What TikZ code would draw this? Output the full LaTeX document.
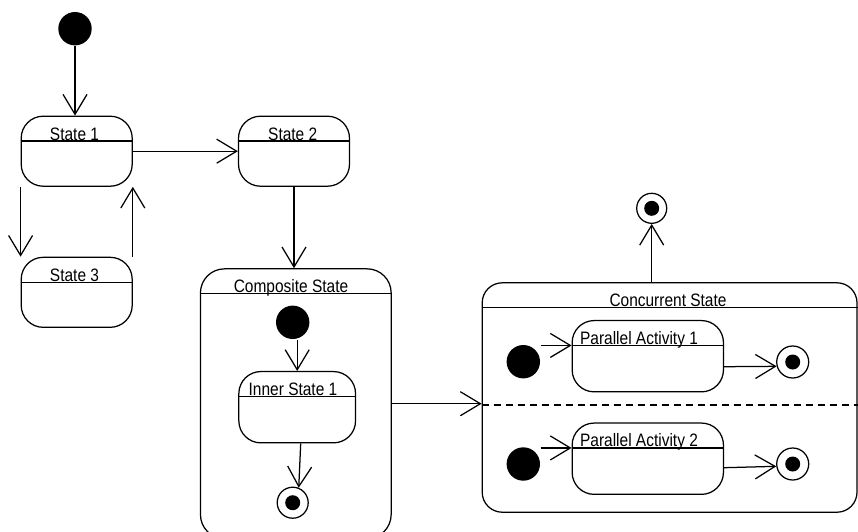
\documentclass[tikz,border=0pt]{standalone}
\usepackage{fontspec}
\newfontfamily\lab{Liberation Sans}[FakeStretch=0.86]
\usetikzlibrary{arrows.meta}

\begin{document}
\begin{tikzpicture}[x=1pt,y=-1pt,line width=1.25pt,
  statebox/.style={draw,rounded corners=22pt,inner sep=0pt},
  startdot/.style={circle,fill=black,minimum size=33.4pt,inner sep=0pt},
  enddot/.style={circle,draw,minimum size=#1,inner sep=0pt,fill=white},
  tr/.style={-{Straight Barb[length=20pt,width=24pt]}},
  lbl/.style={font=\lab\fontsize{18}{20}\selectfont,anchor=base,inner sep=0pt},
  region/.style={dash pattern=on 7pt off 5pt}
]
\useasboundingbox (0,0) rectangle (858,531);
\clip (0,0) rectangle (858,531);

% simple states
\node[statebox,minimum width=111pt,minimum height=70pt] (s1) at (76.7,151.2) {};
\node[statebox,minimum width=111pt,minimum height=70pt] (s2) at (294,151.2) {};
\node[statebox,minimum width=111pt,minimum height=70pt] (s3) at (76.7,292.3) {};

% composite state with its inner machine
\node[statebox,rounded corners=24pt,minimum width=190.7pt,minimum height=269.7pt] (comp) at (295.8,403.7) {};
\node[statebox,minimum width=116.7pt,minimum height=71.3pt] (inner) at (297.2,407.2) {};

% concurrent state with two regions
\node[statebox,rounded corners=20pt,minimum width=374.8pt,minimum height=229.4pt] (conc) at (669.6,397.5) {};
\node[statebox,minimum width=151.3pt,minimum height=71.3pt] (pa1) at (647.8,356.2) {};
\node[statebox,minimum width=151.3pt,minimum height=71.3pt] (pa2) at (647.8,458.7) {};

% compartment lines under the names
\foreach \b in {s1,s2,s3,comp,inner,conc,pa1,pa2}
  \draw ([yshift=-25.5pt]\b.north west) -- ([yshift=-25.5pt]\b.north east);
\draw[region] ([yshift=-7.5pt]conc.west) -- ([yshift=-7.5pt]conc.east);

% names
\node[lbl] (t1) at (74.5,140) {State 1};
\node[lbl] (t2) at (292.7,140) {State 2};
\node[lbl] (t3) at (74.5,281.2) {State 3};
\node[lbl] (tc) at (291,292.8) {Composite State};
\node[lbl] (ti) at (293,395.5) {Inner State 1};
\node[lbl] (tk) at (668,306.8) {Concurrent State};
\node[lbl] (tp1) at (639,344.5) {Parallel Activity 1};
\node[lbl] (tp2) at (639,446.8) {Parallel Activity 2};

% pseudo states
\node[startdot] (i0) at (75,28.7) {};
\node[startdot] (ci) at (292.7,322.3) {};
\node[startdot] (pi1) at (523.3,361.7) {};
\node[startdot] (pi2) at (523.3,464) {};
\node[enddot=30pt] (ftop) at (651.7,208.3) {};
\node[enddot=31pt] (cf) at (292.7,502.7) {};
\node[enddot=32pt] (pf1) at (792.7,362) {};
\node[enddot=32pt] (pf2) at (792.7,464) {};
\foreach \f in {ftop,cf,pf1,pf2}
  \fill (\f.center) circle [radius=7.5pt];

\coordinate (h1) at ([yshift=-25.5pt]pa1.north west);
\coordinate (h2) at ([yshift=-25.5pt]pa2.north west);

% transitions
\draw[tr] (i0) -- (i0 |- s1.north);
\draw[tr] (s1.east) -- (s2.west);
\draw[tr] (s1.south west) -- (s3.north west);
\draw[tr] (s3.north east) -- (s1.south east);
\draw[tr] (s2.south) -- (s2.south |- comp.north);
\draw[tr] (comp.east) -- (comp.east -| conc.west);
\draw[tr] (ftop |- conc.north) -- (ftop);
\draw[tr] (ci.south -| inner.north) -- (inner.north);
\draw[tr] ([xshift=3.5pt]inner.south) -- (cf.68);
\draw[tr] (pi1.east |- h1) -- (h1);
\draw[tr] ([yshift=-10.5pt]pa1.east) -- (pf1.195);
\draw[tr] (pi2.east |- h2) -- (h2);
\draw[tr] ([yshift=-9pt]pa2.east) -- (pf2.188);
\end{tikzpicture}
\end{document}
